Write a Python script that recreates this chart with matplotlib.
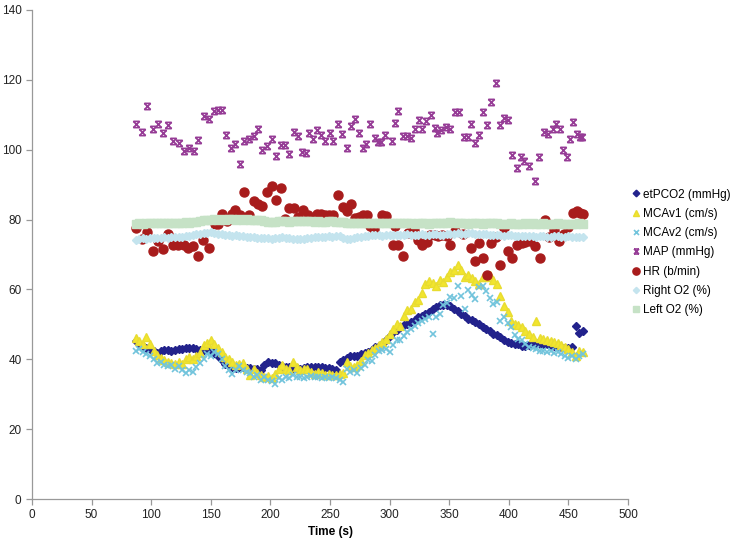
import numpy as np
import matplotlib
matplotlib.use("Agg")
import matplotlib.pyplot as plt
from matplotlib.path import Path

plt.rcParams['font.family'] = ['Liberation Sans', 'DejaVu Sans']

# sampling times (s) for dense series
t_dense = list(range(87, 463, 3))

etpco2 = [45.2, 44.5, 43.8, 43.3, 42.9, 42.3, 41.8, 42.4, 42.6, 42.6,
          42.5, 42.8, 43.0, 43.0, 43.3, 43.3, 43.2, 43.0, 42.8, 42.8,
          42.8, 42.6, 41.8, 40.9, 39.8, 38.6, 38.1, 37.8, 37.6, 37.9,
          37.8, 37.6, 37.4, 37.3, 37.2, 36.9, 38.5, 39.1, 39.0, 38.8,
          38.4, 38.1, 37.9, 37.7, 37.6, 37.4, 37.3, 37.5, 37.7, 37.8,
          37.8, 37.8, 37.7, 37.6, 37.5, 37.3, 37.0, 39.2, 39.8, 40.5,
          40.8, 40.9, 41.0, 41.4, 41.7, 42.1, 42.8, 43.4, 43.8, 44.4,
          45.6, 46.8, 47.8, 48.5, 49.3, 49.7, 50.1, 50.6, 51.3, 52.1,
          52.5, 53.0, 53.6, 54.3, 55.0, 55.4, 55.4, 55.4, 55.2, 54.4,
          53.7, 53.0, 52.3, 51.6, 51.3, 50.7, 50.1, 49.3, 48.8, 48.2,
          47.3, 47.0, 46.3, 45.6, 45.0, 44.6, 44.5, 44.3, 43.8, 43.8,
          44.0, 44.3, 44.8, 44.5, 44.4, 44.3, 44.0, 43.8, 43.8, 43.6,
          43.3, 43.2, 43.5, 49.5, 47.6, 48.2]

mcav1 = [46.0, 45.2, 44.3, 46.3, 44.5, 42.3, 41.2, 40.4, 39.8, 39.3,
         39.0, 38.6, 39.3, 38.7, 40.2, 40.7, 40.0, 40.8, 41.8, 44.0,
         44.8, 45.5, 44.5, 43.2, 42.0, 40.7, 40.0, 39.2, 38.3, 38.6,
         38.8, 37.2, 35.4, 37.3, 36.2, 35.6, 35.0, 35.2, 34.5, 35.9,
         37.2, 38.3, 37.3, 36.8, 39.2, 37.8, 36.9, 37.1, 37.3, 36.5,
         35.9, 36.3, 36.0, 35.5, 35.9, 35.4, 35.5, 35.8, 36.0, 39.2,
         38.0, 37.8, 38.3, 39.5, 41.1, 41.8, 42.6, 43.2, 44.0, 45.0,
         45.9, 47.3, 48.8, 50.2, 49.6, 52.5, 54.0, 54.4, 56.3, 57.0,
         59.0, 61.6, 62.5, 61.8, 61.1, 62.6, 62.2, 63.5, 64.9, 65.6,
         66.9, 65.5, 63.5, 64.0, 63.2, 62.4, 61.6, 63.5, 63.7, 64.0,
         62.8, 61.6, 58.0, 55.2, 53.5, 51.1, 50.2, 49.7, 49.2, 48.2,
         47.3, 46.5, 51.0, 46.0, 45.8, 45.5, 45.3, 45.0, 44.7, 44.0,
         43.5, 43.0, 42.0, 41.0, 42.5, 42.0]

mcav2 = [42.5, 43.0, 42.0, 41.5, 41.0, 40.0, 39.0, 39.2, 38.5, 38.0,
         38.5, 37.2, 38.0, 37.0, 36.2, 37.0, 36.5, 37.8, 39.0, 40.0,
         41.5, 41.0, 42.0, 41.5, 40.0, 38.2, 37.0, 35.8, 36.8, 38.0,
         37.0, 36.5, 36.0, 35.0, 35.5, 34.2, 34.8, 34.0, 33.8, 33.0,
         34.5, 34.0, 35.0, 34.5, 35.5, 34.8, 35.0, 34.5, 35.0, 35.3,
         34.9, 35.0, 34.6, 35.0, 34.7, 35.0, 34.5, 34.0, 33.5, 37.3,
         36.5, 37.0, 36.1, 37.5, 38.3, 39.7, 39.5, 41.1, 42.3, 42.6,
         43.0, 42.0, 44.0, 45.4, 45.6, 46.8, 47.7, 48.8, 49.5, 50.5,
         51.0, 51.5, 52.0, 47.3, 52.1, 53.0, 55.4, 56.2, 57.8, 57.5,
         60.9, 58.0, 54.5, 59.7, 58.5, 57.3, 60.7, 61.1, 59.5, 57.5,
         55.9, 56.5, 51.1, 52.0, 50.5, 49.2, 47.0, 45.9, 45.4, 44.5,
         43.5, 43.3, 43.0, 42.5, 42.3, 42.0, 42.5, 41.8, 42.0, 41.5,
         41.0, 40.5, 41.0, 40.2, 41.0, 41.5]

right_o2 = [74.2, 74.4, 74.6, 74.5, 74.7, 74.6, 74.8, 74.7, 74.9, 74.8,
            75.0, 74.9, 75.1, 75.0, 75.2, 75.3, 75.5, 75.8, 76.0, 76.2,
            76.1, 76.3, 76.2, 76.0, 75.9, 75.7, 75.6, 75.4, 75.5, 75.3,
            75.2, 75.0, 75.1, 74.9, 74.8, 74.7, 74.6, 74.6, 74.5, 74.6,
            74.8, 74.9, 74.7, 74.6, 74.4, 74.5, 74.3, 74.5, 74.6, 74.8,
            74.9, 75.0, 75.1, 75.0, 75.2, 75.1, 75.3, 75.2, 74.8, 74.5,
            74.4, 74.6, 74.9, 75.1, 75.3, 75.4, 75.5, 75.6, 75.5, 75.4,
            75.6, 75.5, 75.7, 75.6, 75.5, 75.7, 75.8, 75.6, 75.5, 75.7,
            75.8, 75.6, 75.7, 75.9, 75.8, 75.7, 75.6, 75.8, 75.9, 76.0,
            76.1, 75.9, 76.0, 76.2, 76.1, 76.0, 75.9, 75.8, 75.9, 75.7,
            75.6, 75.7, 75.5, 75.4, 75.6, 75.5, 75.3, 75.4, 75.2, 75.3,
            75.4, 75.2, 75.1, 75.3, 75.2, 75.0, 75.1, 75.2, 75.3, 75.1,
            75.0, 75.2, 75.1, 75.0, 74.9, 75.0]

left_o2 = [78.8, 78.9, 78.8, 78.9, 79.0, 78.9, 78.9, 79.0, 79.0, 79.1,
           79.0, 79.1, 79.0, 79.1, 79.2, 79.1, 79.2, 79.3, 79.5, 79.8,
           79.9, 80.0, 80.1, 80.0, 80.1, 80.0, 80.1, 80.2, 80.0, 80.1,
           80.0, 80.1, 79.9, 80.0, 80.0, 79.8, 79.6, 79.4, 79.3, 79.4,
           79.5, 79.6, 79.5, 79.4, 79.5, 79.6, 79.5, 79.7, 79.6, 79.5,
           79.4, 79.5, 79.3, 79.4, 79.5, 79.6, 79.4, 79.3, 79.2, 79.1,
           79.0, 79.1, 79.0, 78.9, 79.0, 78.9, 79.1, 79.0, 78.9, 79.0,
           79.1, 79.0, 78.9, 79.0, 78.9, 79.1, 79.0, 78.9, 78.8, 78.9,
           79.0, 78.9, 78.8, 79.0, 79.1, 79.0, 78.9, 79.1, 79.2, 79.0,
           78.9, 79.0, 78.9, 78.8, 78.9, 79.0, 78.9, 78.8, 78.9, 79.0,
           79.1, 78.9, 78.8, 78.7, 78.8, 78.9, 78.8, 78.7, 78.8, 78.9,
           78.8, 78.9, 78.7, 78.8, 78.9, 78.8, 78.7, 78.8, 78.9, 78.8,
           78.7, 78.8, 78.7, 78.8, 78.9, 78.7]

map_t = [87, 92.5, 96.7, 101.2, 106, 109.9, 114.4, 118.5, 123, 127.5,
         131.7, 135.9, 139.5, 144, 148.2, 152.7, 155.7, 159.4, 162.8, 166.7,
         170.3, 174.2, 177.9, 182, 186, 189.9, 192.7, 197.1, 201.1, 204.7,
         208.9, 212.5, 215.9, 219.5, 223.2, 226.2, 229.9, 232.7, 235.5, 239.4,
         242.4, 246, 249.7, 252.8, 257, 260.3, 264, 267.3, 270.7, 274,
         277.4, 280.2, 283.6, 287.8, 290.5, 292.8, 296.4, 302, 304.3, 306.8,
         311.5, 314.3, 318, 321.3, 324.4, 327.5, 330.8, 334.5, 337.8, 340,
         343.1, 347.6, 350.9, 355.1, 358.2, 362.2, 365.5, 368.3, 371.6, 375.3,
         378.1, 382, 385.1, 389, 392.6, 396, 399.3, 402.7, 406.9, 410.2,
         412.8, 417, 422, 425, 429.5, 433, 437, 439.6, 443, 445.5,
         448.8, 451.3, 453.9, 457.2, 459.7, 461.4]
map_v = [107.3, 105.1, 112.6, 105.8, 107.3, 104.7, 107, 102.6, 101.8, 99.5,
         100.5, 99.7, 102.9, 109.7, 108.8, 111.1, 111.3, 111.5, 104.1, 100.4,
         101.5, 96, 102.4, 103, 104, 106, 100, 101.2, 103.1, 98.1,
         101.4, 101.4, 98.9, 105, 103.9, 99.4, 99, 104.8, 103.2, 105.6,
         104.3, 102.6, 104.9, 102.6, 107.5, 104.5, 100.6, 106.9, 108.7, 104.7,
         100.5, 101.7, 107.3, 103.3, 102.3, 102.3, 104.3, 102.6, 107.6, 111.2,
         103.9, 103.9, 103.4, 105.8, 108.6, 105.8, 108.2, 109.9, 106.3, 104.9,
         105.7, 106.6, 105.8, 110.9, 110.8, 103.7, 103.7, 107.3, 102, 104.2,
         110.7, 107.1, 113.8, 119, 107.1, 109.2, 108.5, 98.6, 94.9, 97.8,
         96.9, 95.4, 91, 98, 105, 104.5, 106, 107.4, 106, 100,
         98, 103, 108, 104.5, 103.5, 103.5]

hr_t = [87, 92, 96.5, 101.8, 106, 109.9, 113.8, 118.3, 122.7, 127.3,
        131.2, 135.3, 139.5, 143.7, 148.5, 153.5, 156.3, 159.7, 163.3, 167.5,
        170.3, 174.5, 178.1, 182, 186, 189.3, 192.7, 197.4, 201.1, 204.7,
        208.6, 212.2, 215.9, 220, 223.4, 227.6, 231.8, 238.8, 242.2, 245.8,
        249.4, 252.8, 257, 260.6, 264, 267.4, 271, 274.6, 277.9, 281.3,
        283.6, 286.9, 293.4, 297, 302.6, 304.5, 306.8, 311.5, 315.7, 320.7,
        324.1, 327.4, 331.1, 333.9, 338.1, 340.9, 343.7, 347.9, 350.7, 354.9,
        361.8, 368, 371.6, 375.3, 378.1, 382, 385.1, 389.3, 392.6, 396,
        399.1, 402.7, 406.6, 410.8, 414, 418, 422, 426, 430, 434,
        438, 442, 446, 450, 454, 457, 460, 462.5]
hr_v = [77.6, 74.5, 76.3, 70.9, 74, 71.6, 75.9, 72.6, 72.6, 72.6,
        71.9, 72.3, 69.7, 74.2, 71.8, 78.8, 78.8, 81.6, 79.5, 81.6,
        82.8, 81.3, 87.8, 81.4, 85.4, 84.5, 83.8, 87.8, 89.5, 85.6,
        88.9, 80.2, 83.3, 83.3, 80.7, 82.8, 81.4, 81.5, 81.5, 81.3,
        81.4, 81.3, 86.9, 83.5, 82.4, 84.5, 80.5, 80.7, 81.4, 81.4,
        78.3, 77.3, 81.4, 80.9, 72.6, 78.3, 72.6, 69.5, 76.2, 77.1,
        74.2, 72.6, 73.5, 75.5, 75.5, 75.3, 75.5, 75.4, 72.6, 76.6,
        75.9, 71.8, 68.1, 73.2, 69.1, 64, 73.2, 75.1, 66.9, 77.6,
        71.1, 69.1, 72.6, 73.2, 73.5, 74, 72.5, 69, 80, 75,
        77, 74, 76, 78, 82, 82.5, 82, 81.5]

labels = ["etPCO2 (mmHg)", "MCAv1 (cm/s)", "MCAv2 (cm/s)", "MAP (mmHg)",
          "HR (b/min)", "Right O2 (%)", "Left O2 (%)"]
x_ticks = [0, 50, 100, 150, 200, 250, 300, 350, 400, 450, 500]
y_ticks = [0, 20, 40, 60, 80, 100, 120, 140]

# custom "x with bars" marker
bar_x = Path([(-1, -1), (1, 1), (-1, 1), (1, -1), (-1, 1), (1, 1), (-1, -1), (1, -1)],
             [Path.MOVETO, Path.LINETO, Path.MOVETO, Path.LINETO,
              Path.MOVETO, Path.LINETO, Path.MOVETO, Path.LINETO])

fig = plt.figure(figsize=(7.34, 5.47), dpi=100)
ax = fig.add_axes([32/734, 48/547, 596/734, 489/547])

ax.plot(t_dense, etpco2, ls='none', marker='D', ms=4.2, color='#22228c', mec='#22228c', label=labels[0])
ax.plot(t_dense, mcav1, ls='none', marker='^', ms=5.5, color='#f2e52e', mec='#e8dc30', label=labels[1])
ax.plot(t_dense, mcav2, ls='none', marker='x', ms=4.5, mew=1.2, color='#72c4dc', label=labels[2])
ax.plot(map_t, map_v, ls='none', marker=bar_x, ms=4.5, mew=1.2, mfc='none', color='#963c96', label=labels[3])
ax.plot(hr_t, hr_v, ls='none', marker='o', ms=6.5, color='#a81c1c', mec='#a81c1c', label=labels[4])
ax.plot(t_dense, right_o2, ls='none', marker='D', ms=4.0, color='#c4e4ee', mec='#c4e4ee', label=labels[5])
ax.plot(t_dense, left_o2, ls='none', marker='s', ms=5.5, color='#c6e2c6', mec='#c6e2c6', label=labels[6])

ax.set_xlim(0, 500)
ax.set_ylim(0, 140)
ax.set_xticks(x_ticks)
ax.set_yticks(y_ticks)
for s in ['top', 'right']:
    ax.spines[s].set_visible(False)
for s in ['left', 'bottom']:
    ax.spines[s].set_color('#999999')
    ax.spines[s].set_linewidth(0.9)
ax.tick_params(direction='out', length=4, width=0.9, color='#999999', labelsize=8.5, labelcolor='#222222')
ax.set_xlabel("Time (s)", fontsize=8.5, fontweight='bold', labelpad=3)

fig.legend(loc='upper left', bbox_to_anchor=(0.855, 0.664), frameon=False,
           fontsize=8.5, handlelength=0.6, handletextpad=0.3, labelspacing=0.62,
           markerscale=0.8, borderaxespad=0)

fig.savefig("out.png", dpi=100)
